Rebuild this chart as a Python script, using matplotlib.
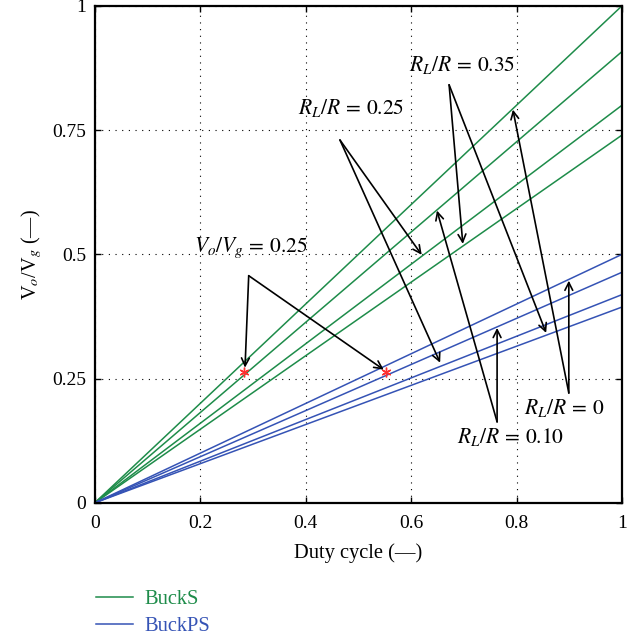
import matplotlib.pyplot as plt

plt.rcParams['font.family'] = ['Liberation Serif', 'DejaVu Serif']
plt.rcParams['mathtext.fontset'] = 'stix'

# duty cycle range and gain at D = 1 for each load ratio (0, 0.10, 0.25, 0.35)
duty = [0.0, 1.0]
rl_ratio = [0, 0.10, 0.25, 0.35]
buck_s_gain = [1.0, 0.908, 0.80, 0.74]
buck_ps_gain = [0.50, 0.464, 0.419, 0.394]

# operating points where Vo/Vg = 0.25
op_x = [0.283, 0.552]
op_y = [0.264, 0.264]

green = '#1e8c4a'
blue = '#3553b5'

# label text, label position, arrow tail, arrow tips
labels = [
    (r'$R_L/R\,=\,0.35$', (0.696, 0.880), (0.672, 0.841), [(0.698, 0.521), (0.856, 0.342)]),
    (r'$R_L/R\,=\,0.25$', (0.486, 0.795), (0.465, 0.730), [(0.620, 0.499), (0.655, 0.282)]),
    (r'$V_o/V_g\,=\,0.25$', (0.296, 0.513), (0.292, 0.457), [(0.285, 0.272), (0.548, 0.268)]),
    (r'$R_L/R\,=\,0$', (0.890, 0.191), (0.899, 0.221), [(0.793, 0.791), (0.899, 0.447)]),
    (r'$R_L/R\,=\,0.10$', (0.789, 0.133), (0.763, 0.163), [(0.649, 0.588), (0.763, 0.352)]),
]

fig = plt.figure(figsize=(6.4, 6.39), dpi=100)
ax = fig.add_axes([0.148, 0.213, 0.824, 0.778])

for i, g in enumerate(buck_s_gain):
    ax.plot(duty, [0, g], color=green, lw=1.1, label='BuckS' if i == 0 else None)
for i, g in enumerate(buck_ps_gain):
    ax.plot(duty, [0, g], color=blue, lw=1.1, label='BuckPS' if i == 0 else None)

ax.plot(op_x, op_y, ls='none', marker=(6, 2, 0), ms=7, mew=1, color='#ff3030')

for text, pos, tail, tips in labels:
    ax.text(pos[0], pos[1], text, fontsize=15.5, ha='center', va='center')
    for tip in tips:
        ax.annotate('', xy=tip, xytext=tail,
                    arrowprops=dict(arrowstyle='->', lw=1.2, color='black',
                                    shrinkA=0, shrinkB=0, mutation_scale=14))

ax.set_xlim(0, 1)
ax.set_ylim(0, 1)
ax.set_xticks([0, 0.2, 0.4, 0.6, 0.8, 1])
ax.set_xticklabels(['0', '0.2', '0.4', '0.6', '0.8', '1'])
ax.set_yticks([0, 0.25, 0.5, 0.75, 1])
ax.set_yticklabels(['0', '0.25', '0.5', '0.75', '1'])
ax.tick_params(direction='in', top=True, right=True, length=4, width=1, labelsize=14)
ax.tick_params(axis='x', pad=9)
ax.tick_params(axis='y', pad=6)
ax.grid(True, color='black', ls=(0, (1, 5)), lw=0.8)
for s in ax.spines.values():
    s.set_linewidth(1.6)

ax.set_xlabel('Duty cycle (—)', fontsize=14.8, labelpad=8)
ax.set_ylabel(r'V$_o$/V$_g$ (—)', fontsize=14.5, labelpad=6)

leg = fig.legend(loc='upper left', bbox_to_anchor=(0.15, 1 - 590 / 639), frameon=False,
                 fontsize=14.8, handlelength=1.8, handletextpad=0.55, labelspacing=0.35,
                 borderpad=0, borderaxespad=0)
for line, txt in zip(leg.get_lines(), leg.get_texts()):
    txt.set_color(line.get_color())

fig.savefig('out.png', dpi=100)
